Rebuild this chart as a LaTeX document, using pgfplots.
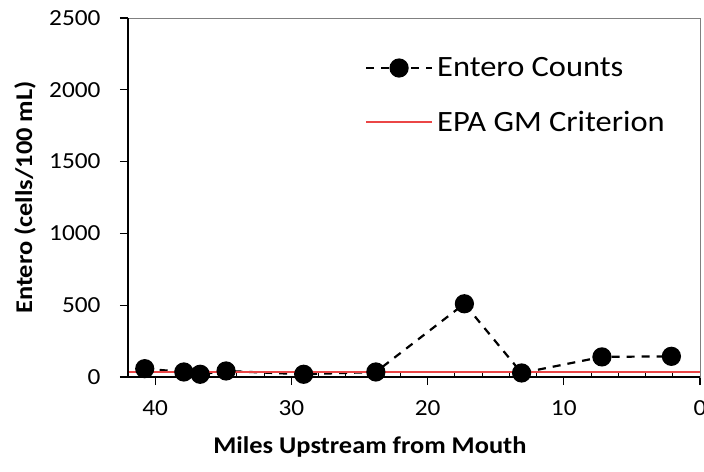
\documentclass[border=0pt]{standalone}
\usepackage{fontspec}
\setmainfont[FakeStretch=1.1]{Carlito}
\usepackage{pgfplots}
\pgfplotsset{compat=1.18}
\definecolor{epared}{RGB}{235,70,70}
\definecolor{boxgray}{RGB}{128,128,128}
\begin{document}
\begin{tikzpicture}
\useasboundingbox (0,0) rectangle (704bp,472bp);
\begin{axis}[
  at={(128bp,95bp)}, anchor=south west,
  scale only axis, width=572bp, height=359bp,
  x dir=reverse,
  xmin=0, xmax=42, ymin=0, ymax=2500,
  axis line style={boxgray, line width=0.8bp},
  xtick={0,10,20,30,40},
  ytick={0,500,1000,1500,2000,2500},
  xtick pos=bottom, ytick pos=left,
  tick align=outside,
  major tick length=8bp,
  tick style={black, line width=1.2bp},
  extra x ticks={2,4,6,8,12,14,16,18,22,24,26,28,32,34,36,38,42},
  extra x tick labels={},
  extra x tick style={xtick align=inside, major tick length=6bp, tick style={black, line width=1bp}},
  /pgf/number format/assume math mode=true,
  /pgf/number format/1000 sep={},
  ticklabel style={font=\fontsize{23bp}{27bp}\selectfont},
  xticklabel style={yshift=-12bp},
  y tick label style={anchor=east, xshift=-16bp},
  xlabel={\bfseries Miles Upstream from Mouth},
  ylabel={\bfseries Entero (cells/100 mL)},
  label style={font=\fontsize{24bp}{28bp}\selectfont},
  xlabel style={at={(axis description cs:0.423,-0.195)}, anchor=center},
  ylabel style={at={(axis description cs:-0.18,0.5)}, anchor=center},
  legend style={at={(axis description cs:0.414,0.89)}, anchor=north west, draw=none, fill=none,
    font=\fontsize{29.5bp}{34bp}\selectfont, row sep=33bp, inner sep=0pt,
    nodes={inner xsep=4bp, inner ysep=0pt}, cells={anchor=west}},
  legend image code/.code={\draw[mark repeat=2,mark phase=2,#1] plot coordinates {(0bp,0bp) (33bp,0bp) (66bp,0bp)};},
  clip=false,
]
\addplot[black, line width=2.2bp, dash pattern=on 8bp off 7bp, mark=*, mark size=8.5bp, mark options={solid, fill=black}]
coordinates {
(40.77,58) (37.9,35) (36.7,19) (34.8,42) (29.1,19) (23.8,35) (17.3,510) (13.1,28) (7.2,140) (2.1,144)
};
\addlegendentry{Entero Counts}
\addplot[epared, line width=1.8bp, no marks] coordinates {(42,35) (0,35)};
\addlegendentry{EPA GM Criterion}
\draw[black, line width=2bp] (rel axis cs:0,1) -- (rel axis cs:0,0) -- (rel axis cs:1,0);
\end{axis}
\end{tikzpicture}
\end{document}
